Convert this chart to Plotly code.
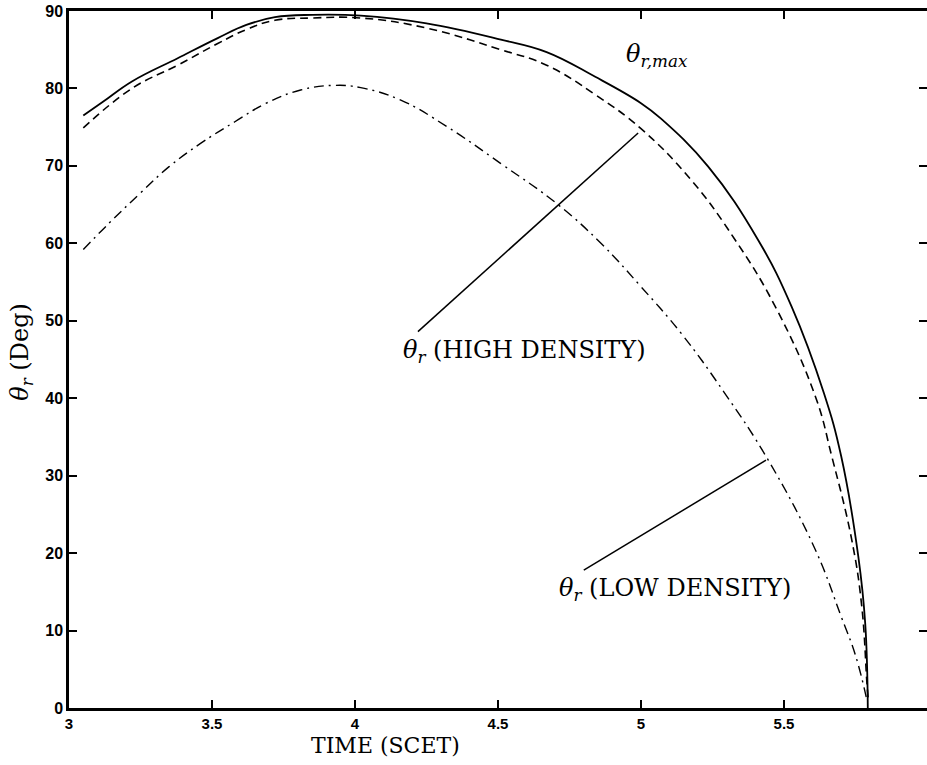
import plotly.graph_objects as go

# theta_r,max (solid)
max_x = [3.05, 3.12, 3.22, 3.38, 3.52, 3.62, 3.72, 3.85, 4.02, 4.25, 4.51, 4.67, 4.84,
         5.00, 5.07, 5.235, 5.41, 5.527, 5.64, 5.70, 5.76, 5.784, 5.793]
max_y = [76.5, 78.3, 80.9, 83.9, 86.5, 88.2, 89.2, 89.5, 89.4, 88.4, 86.3, 84.7, 81.5,
         78.1, 76.1, 69.9, 60.4, 51.8, 40.6, 32.5, 19.5, 10.9, 0.0]

# theta_r high density (dashed)
high_x = [3.05, 3.22, 3.38, 3.52, 3.62, 3.72, 3.85, 4.02, 4.25, 4.51, 4.67, 4.84, 5.00,
          5.175, 5.33, 5.47, 5.61, 5.667, 5.737, 5.772, 5.79, 5.795]
high_y = [74.9, 80.0, 83.0, 85.8, 87.6, 88.8, 89.1, 89.1, 87.8, 85.0, 83.0, 79.2, 74.8,
          68.2, 60.4, 51.8, 40.2, 32.5, 21.7, 13.1, 3.2, 1.0]

# theta_r low density (dash-dot)
low_x = [3.05, 3.14, 3.25, 3.35, 3.46, 3.58, 3.69, 3.81, 3.93, 4.02, 4.16, 4.32, 4.51,
         4.71, 4.86, 5.00, 5.14, 5.29, 5.445, 5.61, 5.70, 5.75, 5.79]
low_y = [59.2, 62.6, 66.5, 69.9, 72.9, 75.7, 78.1, 79.8, 80.4, 80.1, 78.5, 75.1, 70.3,
         65.0, 60.0, 54.4, 48.4, 40.8, 32.0, 20.4, 11.8, 6.8, 1.0]

x_ticks = [3, 3.5, 4, 4.5, 5, 5.5, 6]
x_tick_text = ["3", "3.5", "4", "4.5", "5", "5.5", "6"]
y_ticks = [0, 10, 20, 30, 40, 50, 60, 70, 80, 90]
y_tick_text = ["0", "10", "20", "30", "40", "50", "60", "70", "80", "90"]

# pointer lines (data coords)
high_ptr_x = [4.99, 4.22]
high_ptr_y = [74.25, 48.6]
low_ptr_x = [5.437, 4.80]
low_ptr_y = [32.0, 17.8]

# label anchor positions (data coords)
label_high = (4.16, 46.0)
label_low = (4.707, 15.3)
label_max = (4.94, 84.3)

SERIF = "DejaVu Serif"

fig = go.Figure()
fig.add_trace(go.Scatter(x=max_x, y=max_y, mode="lines",
                         line=dict(color="black", width=1.8, shape="spline", smoothing=1.2)))
fig.add_trace(go.Scatter(x=high_x, y=high_y, mode="lines",
                         line=dict(color="black", width=1.6, dash="8px,5px", shape="spline", smoothing=1.2)))
fig.add_trace(go.Scatter(x=low_x, y=low_y, mode="lines",
                         line=dict(color="black", width=1.4, dash="10px,5px,2px,5px", shape="spline", smoothing=1.2)))
fig.add_trace(go.Scatter(x=high_ptr_x, y=high_ptr_y, mode="lines",
                         line=dict(color="black", width=1.5)))
fig.add_trace(go.Scatter(x=low_ptr_x, y=low_ptr_y, mode="lines",
                         line=dict(color="black", width=1.5)))

ann_font = dict(family=SERIF, size=24, color="black")
fig.add_annotation(x=label_high[0], y=label_high[1], xref="x", yref="y",
                   text="<i>θ</i><sub><i>r</i></sub> (HIGH DENSITY)", showarrow=False,
                   xanchor="left", yanchor="middle", font=ann_font)
fig.add_annotation(x=label_low[0], y=label_low[1], xref="x", yref="y",
                   text="<i>θ</i><sub><i>r</i></sub> (LOW DENSITY)", showarrow=False,
                   xanchor="left", yanchor="middle", font=ann_font)
fig.add_annotation(x=label_max[0], y=label_max[1], xref="x", yref="y",
                   text="<i>θ</i><sub><i>r,max</i></sub>", showarrow=False,
                   xanchor="left", yanchor="middle", font=ann_font)
fig.add_annotation(x=0.369, y=-0.054, xref="paper", yref="paper",
                   text="TIME (SCET)", showarrow=False, borderpad=0,
                   xanchor="center", yanchor="middle", font=dict(family=SERIF, size=22, color="black"))
fig.add_annotation(x=-0.0548, y=0.511, xref="paper", yref="paper",
                   text="<i>θ</i><sub><i>r</i></sub> (Deg)", showarrow=False, textangle=-90,
                   xanchor="center", yanchor="middle", font=ann_font)

tick_font = dict(family="Liberation Sans", size=15, color="black", weight="bold")
fig.update_xaxes(range=[3, 6], tickvals=x_ticks, ticktext=x_tick_text,
                 ticks="inside", ticklen=8, tickwidth=1.5, tickcolor="black",
                 showline=True, linewidth=2.5, linecolor="black", mirror="ticks",
                 showgrid=False, zeroline=False, tickfont=tick_font, automargin=False,
                 ticklabelstandoff=0)
fig.update_yaxes(range=[0, 90], tickvals=y_ticks, ticktext=y_tick_text,
                 ticks="inside", ticklen=8, tickwidth=1.5, tickcolor="black",
                 showline=True, linewidth=2.5, linecolor="black", mirror="ticks",
                 showgrid=False, zeroline=False, tickfont=dict(family="Liberation Sans", size=16,
                                                               color="black", weight="bold"),
                 automargin=False)
fig.update_layout(width=927, height=765, margin=dict(l=69, r=0, t=11, b=57),
                  paper_bgcolor="white", plot_bgcolor="white", showlegend=False,
                  hovermode=False)

fig.write_html("out.html", config={"responsive": False, "displayModeBar": False},
               post_script="document.body.style.margin='0';document.body.style.overflow='hidden';")
